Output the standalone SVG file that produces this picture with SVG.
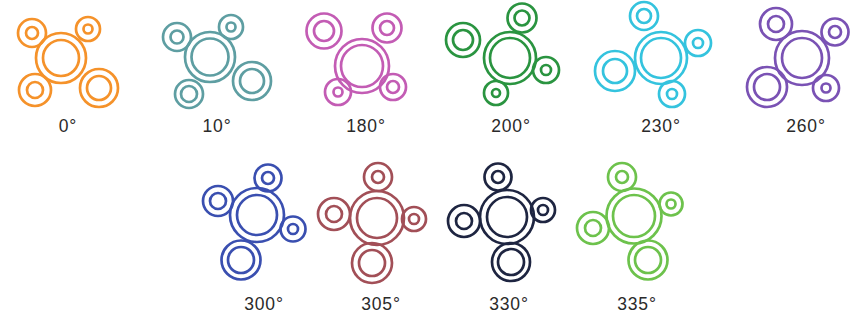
<svg xmlns="http://www.w3.org/2000/svg" width="857" height="320" viewBox="0 0 857 320">
<style>
circle{fill:none;stroke-width:2.7}
text{font-family:"Liberation Sans",Arial,sans-serif;font-size:17.5px;letter-spacing:0.8px;fill:#2a2a2a;text-anchor:middle}
#i0 circle{stroke:#F5922A}
#i10 circle{stroke:#5E9EA2}
#i180 circle{stroke:#C35CB4}
#i200 circle{stroke:#2A9440}
#i230 circle{stroke:#34C3DE}
#i260 circle{stroke:#7A52B4}
#i300 circle{stroke:#3A4FB0}
#i305 circle{stroke:#A24F57}
#i330 circle{stroke:#1E2541}
#i335 circle{stroke:#6DC24C}
</style>
<rect width="857" height="320" fill="#fff"/>
<g id="i0">
<circle cx="61" cy="58" r="25"/><circle cx="61" cy="58" r="18"/>
<circle cx="32" cy="33" r="14"/><circle cx="32" cy="33" r="6"/>
<circle cx="88" cy="29" r="12"/><circle cx="88" cy="29" r="4.5"/>
<circle cx="35" cy="90" r="16"/><circle cx="35" cy="90" r="8"/>
<circle cx="99" cy="88" r="19"/><circle cx="99" cy="88" r="12"/>
<text x="68" y="132">0°</text>
</g>
<g id="i10">
<circle cx="210" cy="57" r="25"/><circle cx="210" cy="57" r="18.5"/>
<circle cx="177" cy="37" r="14"/><circle cx="177" cy="37" r="6.5"/>
<circle cx="231" cy="27" r="12"/><circle cx="231" cy="27" r="4.5"/>
<circle cx="189" cy="94" r="14"/><circle cx="189" cy="94" r="8"/>
<circle cx="252" cy="81" r="19"/><circle cx="252" cy="81" r="12"/>
<text x="217" y="132">10°</text>
</g>
<g id="i180">
<circle cx="362" cy="66" r="27"/><circle cx="362" cy="66" r="21"/>
<circle cx="324" cy="31" r="17.5"/><circle cx="324" cy="31" r="10"/>
<circle cx="387" cy="28" r="14.5"/><circle cx="387" cy="28" r="7"/>
<circle cx="338" cy="92" r="13"/><circle cx="338" cy="92" r="4.5"/>
<circle cx="393" cy="87" r="13"/><circle cx="393" cy="87" r="6"/>
<text x="366" y="132">180°</text>
</g>
<g id="i200">
<circle cx="510" cy="58" r="26"/><circle cx="510" cy="58" r="20"/>
<circle cx="463" cy="40" r="17"/><circle cx="463" cy="40" r="10"/>
<circle cx="522" cy="18" r="14.5"/><circle cx="522" cy="18" r="7.5"/>
<circle cx="546" cy="70" r="13"/><circle cx="546" cy="70" r="5"/>
<circle cx="496" cy="93" r="12"/><circle cx="496" cy="93" r="4"/>
<text x="511" y="132">200°</text>
</g>
<g id="i230">
<circle cx="661" cy="58" r="26"/><circle cx="661" cy="58" r="20"/>
<circle cx="644" cy="16" r="14"/><circle cx="644" cy="16" r="7"/>
<circle cx="698" cy="43" r="13"/><circle cx="698" cy="43" r="5"/>
<circle cx="615" cy="71" r="20"/><circle cx="615" cy="71" r="12"/>
<circle cx="672" cy="94" r="13"/><circle cx="672" cy="94" r="5"/>
<text x="661" y="132">230°</text>
</g>
<g id="i260">
<circle cx="802" cy="58" r="27"/><circle cx="802" cy="58" r="20"/>
<circle cx="776" cy="24" r="16"/><circle cx="776" cy="24" r="8"/>
<circle cx="835" cy="32" r="13.5"/><circle cx="835" cy="32" r="6"/>
<circle cx="767" cy="87" r="20"/><circle cx="767" cy="87" r="13"/>
<circle cx="826" cy="88" r="13"/><circle cx="826" cy="88" r="4.5"/>
<text x="806" y="132">260°</text>
</g>
<g id="i300">
<circle cx="257" cy="215" r="27"/><circle cx="257" cy="215" r="20"/>
<circle cx="268" cy="178" r="13.5"/><circle cx="268" cy="178" r="6"/>
<circle cx="218" cy="201" r="15"/><circle cx="218" cy="201" r="8"/>
<circle cx="293" cy="229" r="12.5"/><circle cx="293" cy="229" r="5"/>
<circle cx="241" cy="260" r="19.5"/><circle cx="241" cy="260" r="13"/>
<text x="264" y="310">300°</text>
</g>
<g id="i305">
<circle cx="377" cy="218" r="27"/><circle cx="377" cy="218" r="20"/>
<circle cx="378" cy="177" r="14"/><circle cx="378" cy="177" r="6"/>
<circle cx="334" cy="214" r="16"/><circle cx="334" cy="214" r="8"/>
<circle cx="414" cy="219" r="12"/><circle cx="414" cy="219" r="5"/>
<circle cx="372" cy="263" r="20"/><circle cx="372" cy="263" r="13"/>
<text x="381" y="310">305°</text>
</g>
<g id="i330">
<circle cx="507" cy="217" r="27"/><circle cx="507" cy="217" r="20"/>
<circle cx="498" cy="177" r="13.5"/><circle cx="498" cy="177" r="6"/>
<circle cx="464" cy="221" r="16"/><circle cx="464" cy="221" r="8"/>
<circle cx="543" cy="210" r="12"/><circle cx="543" cy="210" r="5"/>
<circle cx="511" cy="262" r="19"/><circle cx="511" cy="262" r="13"/>
<text x="509" y="310">330°</text>
</g>
<g id="i335">
<circle cx="634" cy="216" r="27.5"/><circle cx="634" cy="216" r="21"/>
<circle cx="622" cy="177" r="14"/><circle cx="622" cy="177" r="6"/>
<circle cx="671" cy="204" r="11.5"/><circle cx="671" cy="204" r="4.5"/>
<circle cx="593" cy="228" r="16"/><circle cx="593" cy="228" r="8"/>
<circle cx="648" cy="260" r="19.5"/><circle cx="648" cy="260" r="13"/>
<text x="637" y="310">335°</text>
</g>
</svg>
